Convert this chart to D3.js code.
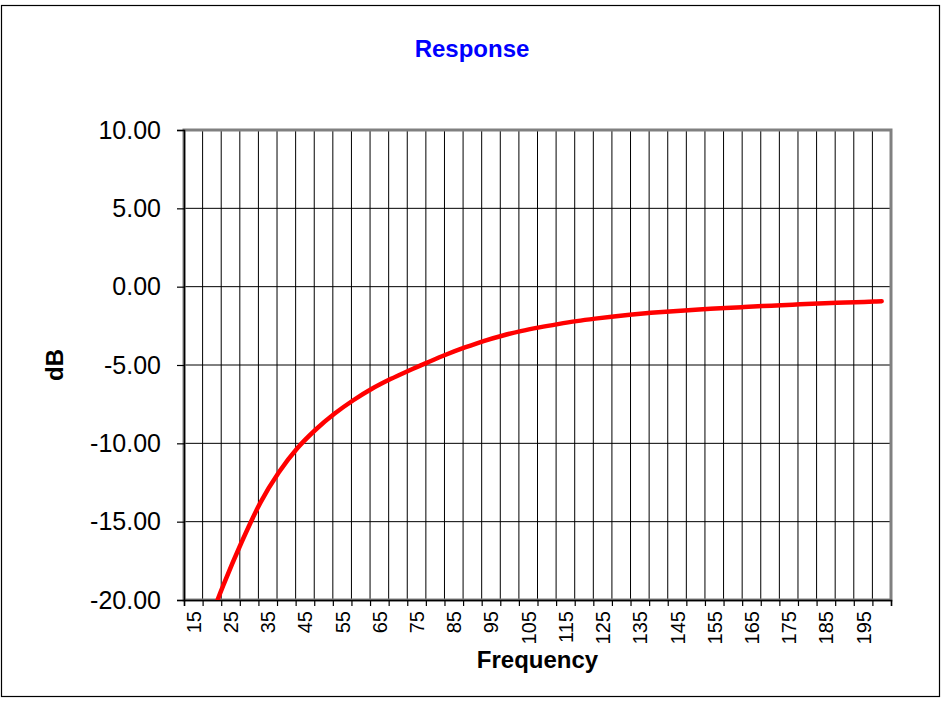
<!DOCTYPE html>
<html>
<head>
<meta charset="utf-8">
<script src="https://cdn.jsdelivr.net/npm/d3@7"></script>
<style>
  body { margin: 0; background: #fff; }
  svg { display: block; font-family: Arial, "Liberation Sans", sans-serif; }
</style>
</head>
<body>
<div id="chart"></div>
<script>
// frequency (Hz) and response (dB)
const freq = [20, 25, 30, 35, 40, 45, 50, 55, 60, 65, 70, 75, 80, 85, 90, 95, 100,
    105, 110, 115, 120, 125, 130, 135, 140, 145, 150, 155, 160, 165, 170, 175,
    180, 185, 190, 195, 200, 202];
const dB = [-22.2, -19.1, -16.3, -13.8, -11.85, -10.3, -9.1, -8.1, -7.25, -6.52, -5.9, -5.35, -4.83,
    -4.33, -3.88, -3.47, -3.13, -2.84, -2.6, -2.39, -2.2, -2.04, -1.9, -1.78, -1.67, -1.58,
    -1.5, -1.43, -1.36, -1.3, -1.24, -1.18, -1.13, -1.08, -1.03, -0.99, -0.95, -0.93];

const xLabels = d3.range(15, 196, 10);          // 15, 25 ... 195
const xBounds = d3.range(14.5, 205, 5);         // category group boundaries
const yTicks = [10, 5, 0, -5, -10, -15, -20];

const W = 944, H = 703;
const plot = { left: 184, right: 891, top: 130, bottom: 600 };

const svg = d3.select("#chart").append("svg")
    .attr("width", W)
    .attr("height", H);

// outer chart frame
svg.append("rect")
    .attr("x", 1.5).attr("y", 5.5)
    .attr("width", 938).attr("height", 691)
    .attr("fill", "none")
    .attr("stroke", "#000")
    .attr("stroke-width", 1.2);

const x = d3.scaleLinear().domain([14.5, 204.5]).range([plot.left, plot.right]);
const y = d3.scaleLinear().domain([-20, 10]).range([plot.bottom, plot.top]);

// gridlines
svg.append("g")
    .selectAll("line")
    .data(xBounds.slice(1, -1))
    .join("line")
    .attr("x1", d => x(d)).attr("x2", d => x(d))
    .attr("y1", plot.top).attr("y2", plot.bottom)
    .attr("stroke", "#000").attr("stroke-width", 1);

svg.append("g")
    .selectAll("line")
    .data(yTicks.filter(d => d > -20 && d < 10))
    .join("line")
    .attr("x1", plot.left).attr("x2", plot.right)
    .attr("y1", d => y(d)).attr("y2", d => y(d))
    .attr("stroke", "#000").attr("stroke-width", 1);

// plot area border (grey, top/right)
svg.append("rect")
    .attr("x", plot.left).attr("y", plot.top)
    .attr("width", plot.right - plot.left)
    .attr("height", plot.bottom - plot.top)
    .attr("fill", "none")
    .attr("stroke", "#808080")
    .attr("stroke-width", 3);

// y axis
const yAxis = svg.append("g")
    .attr("transform", `translate(${plot.left},0)`)
    .call(d3.axisLeft(y)
        .tickValues(yTicks)
        .tickSize(7)
        .tickPadding(16)
        .tickFormat(d3.format(".2f")));
yAxis.select(".domain").attr("stroke", "#000").attr("stroke-width", 1.5);
yAxis.selectAll(".tick line").attr("stroke", "#000").attr("stroke-width", 1.2);
yAxis.selectAll(".tick text")
    .attr("fill", "#000")
    .style("font-size", "25px")
    .text(d => d3.format(".2f")(d).replace("−", "-"));

// x axis
const xAxis = svg.append("g")
    .attr("transform", `translate(0,${plot.bottom})`)
    .call(d3.axisBottom(x)
        .tickValues(xBounds)
        .tickSize(6)
        .tickFormat(""));
xAxis.select(".domain").attr("stroke", "#000").attr("stroke-width", 1.5);
xAxis.selectAll(".tick line").attr("stroke", "#000").attr("stroke-width", 1.2);

svg.append("g")
    .selectAll("text")
    .data(xLabels)
    .join("text")
    .attr("transform", d => `translate(${x(d + 2) + 7.5},${plot.bottom + 11}) rotate(-90)`)
    .attr("text-anchor", "end")
    .style("font-size", "20px")
    .text(d => d);

// response curve, clipped to plot area
svg.append("clipPath")
    .attr("id", "clip")
    .append("rect")
    .attr("x", plot.left).attr("y", plot.top)
    .attr("width", plot.right - plot.left)
    .attr("height", plot.bottom - plot.top);

const line = d3.line()
    .x((d, i) => x(freq[i]))
    .y(d => y(d))
    .curve(d3.curveMonotoneX);

svg.append("path")
    .datum(dB)
    .attr("clip-path", "url(#clip)")
    .attr("fill", "none")
    .attr("stroke", "#ff0000")
    .attr("stroke-width", 4.5)
    .attr("stroke-linecap", "round")
    .attr("d", line);

// titles
svg.append("text")
    .attr("x", 472).attr("y", 57)
    .attr("text-anchor", "middle")
    .attr("fill", "#0000ff")
    .style("font-size", "24px")
    .style("font-weight", "bold")
    .text("Response");

svg.append("text")
    .attr("x", (plot.left + plot.right) / 2).attr("y", 668)
    .attr("text-anchor", "middle")
    .style("font-size", "24px")
    .style("font-weight", "bold")
    .text("Frequency");

svg.append("text")
    .attr("transform", `translate(63,${(plot.top + plot.bottom) / 2}) rotate(-90)`)
    .attr("text-anchor", "middle")
    .style("font-size", "24px")
    .style("font-weight", "bold")
    .text("dB");
</script>
</body>
</html>
